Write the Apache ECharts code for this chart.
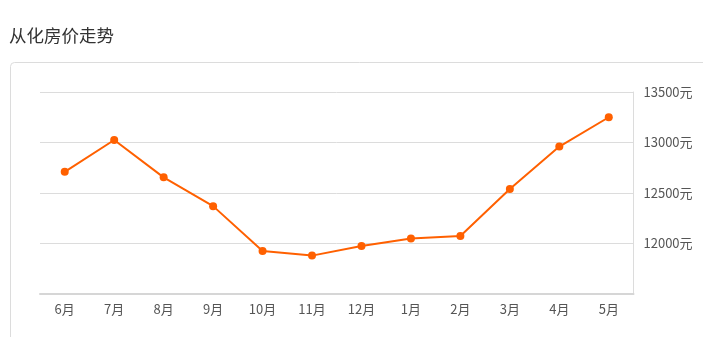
<!DOCTYPE html>
<html><head><meta charset="utf-8">
<script src="https://cdn.jsdelivr.net/npm/echarts@6/dist/echarts.min.js"></script>
<style>html,body{margin:0;padding:0;background:#fff}#c{width:703px;height:337px}</style>
</head><body><div id="c"></div>
<script>
var categories = ['6月','7月','8月','9月','10月','11月','12月','1月','2月','3月','4月','5月'];
var prices = [12710, 13025, 12655, 12370, 11925, 11880, 11975, 12050, 12075, 12540, 12960, 13250];
var yMin = 11500, yMax = 13500, yStep = 500;

var chart = echarts.init(document.getElementById('c'));
chart.setOption({
  animation: false,
  title: {
    text: '从化房价走势', left: 4, top: 22,
    textStyle: { fontSize: 17.5, fontWeight: 'normal', color: '#333', fontFamily: 'Noto Sans CJK SC' }
  },
  graphic: [{
    type: 'rect', shape: { x: 10.5, y: 62.5, width: 720, height: 320, r: 4 },
    style: { fill: 'none', stroke: '#dcdcdc', lineWidth: 1 }, z: -1
  }],
  grid: { left: 40, right: 69.5, top: 92, bottom: 43 },
  xAxis: {
    type: 'category', data: categories, boundaryGap: true,
    axisLine: { lineStyle: { color: '#d6d6d6', width: 2 } },
    axisTick: { alignWithLabel: true, length: 4, lineStyle: { color: '#d6d6d6' } },
    axisLabel: { color: '#555', fontSize: 13, margin: 9, fontFamily: 'Noto Sans CJK SC' }
  },
  yAxis: {
    type: 'value', position: 'right', min: yMin, max: yMax, interval: yStep,
    axisLine: { show: true, lineStyle: { color: '#dcdcdc', width: 1 } },
    axisTick: { show: false },
    splitLine: { lineStyle: { color: '#dcdcdc' } },
    axisLabel: {
      color: '#555', fontSize: 13, margin: 10, showMinLabel: false,
      fontFamily: 'Noto Sans CJK SC',
      formatter: function (v) { return v + '元'; }
    }
  },
  series: [{
    type: 'line', data: prices, symbol: 'circle', symbolSize: 8,
    itemStyle: { color: '#ff6000' },
    lineStyle: { color: '#ff6000', width: 2 }
  }]
});
</script></body></html>
